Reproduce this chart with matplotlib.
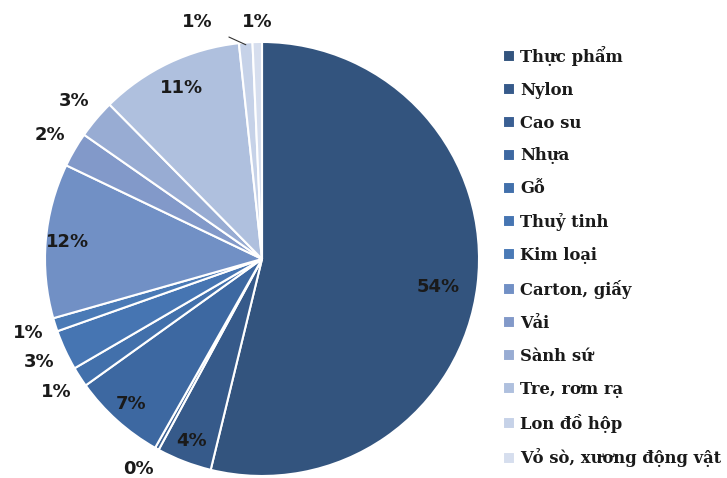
import numpy as np
import matplotlib.pyplot as plt

# Data
categories = ["Thực phẩm", "Nylon", "Cao su", "Nhựa", "Gỗ", "Thuỷ tinh", "Kim loại",
              "Carton, giấy", "Vải", "Sành sứ", "Tre, rơm rạ", "Lon đồ hộp",
              "Vỏ sò, xương động vật"]
values = [53.8, 4.1, 0.3, 6.9, 1.5, 3.0, 1.0, 11.5, 2.6, 2.9, 10.7, 1.0, 0.7]
labels = ["54%", "4%", "0%", "7%", "1%", "3%", "1%", "12%", "2%", "3%", "11%", "1%", "1%"]
colors = ["#33547e", "#365a8a", "#3a5f93", "#3d68a1", "#4270ab", "#4675b2", "#4a7ab6",
          "#7190c5", "#8299c9", "#98acd3", "#afc0de", "#c6d2e8", "#d6deee"]

# Style
text_color = "#1a1a1a"
pct_font = "DejaVu Sans"
legend_font = "DejaVu Serif"

fig = plt.figure(figsize=(7.27, 4.78), dpi=100)
ax = fig.add_axes([0.0619, 0.0042, 0.597, 0.908])

wedges, _ = ax.pie(values, colors=colors, startangle=90, counterclock=False,
                   wedgeprops=dict(edgecolor="white", linewidth=1.5))
ax.set_xlim(-1, 1)
ax.set_ylim(-1, 1)
ax.set_aspect("equal")
ax.axis("off")

# Percentage labels: big slices inside, small ones outside
for i, (w, lab) in enumerate(zip(wedges, labels)):
    mid = np.deg2rad((w.theta1 + w.theta2) / 2)
    r = 0.9 if values[i] >= 4 else 1.13
    if i == len(wedges) - 3:
        r = 0.87
    x, y = r * np.cos(mid), r * np.sin(mid)
    if i == 0:
        mid = np.deg2rad(-9)
        x, y = 0.82 * np.cos(mid), 0.82 * np.sin(mid)
    if i == 2:
        x, y = -0.57, -0.97
    if i == len(wedges) - 2:
        ex, ey = 0.99 * np.cos(mid), 0.99 * np.sin(mid)
        ax.annotate(lab, xy=(ex, ey), xytext=(-0.3, 1.09), ha="center", va="center",
                    fontsize=13, fontweight="bold", family=pct_font, color=text_color,
                    arrowprops=dict(arrowstyle="-", color="#333333", lw=0.8,
                                    shrinkA=11, shrinkB=0))
        continue
    if i == len(wedges) - 1:
        x, y = -0.02, 1.09
    ax.text(x, y, lab, ha="center", va="center", fontsize=13, fontweight="bold",
            family=pct_font, color=text_color)

leg = fig.legend(wedges, categories, loc="upper left", bbox_to_anchor=(0.683, 0.918),
                 frameon=False, handlelength=0.75, handleheight=0.75, handletextpad=0.3,
                 labelspacing=0.97, borderaxespad=0,
                 prop=dict(family=legend_font, weight="bold", size=11.8))
for t in leg.get_texts():
    t.set_color(text_color)

plt.savefig("out.png", dpi=100)
plt.close()
